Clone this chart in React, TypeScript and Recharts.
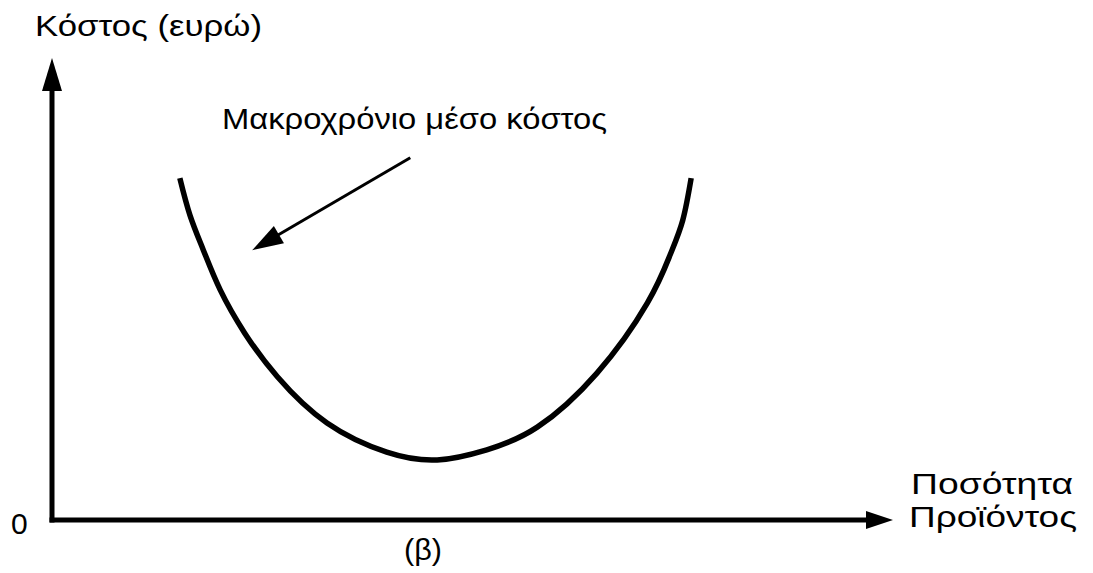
import { LineChart, Line, XAxis, YAxis, ReferenceLine } from 'recharts'

// Long-run average cost curve (U shape)
const quantity = [15.2, 16.4, 18.0, 20.0, 22.9, 26.8, 32.7, 39.8, 45.8, 51.7, 57.7, 64.8, 70.8, 73.5, 75.0, 76.0]
const avgCost = [74.0, 66.0, 58.4, 49.8, 40.5, 31.0, 21.0, 14.7, 13.0, 15.2, 20.1, 31.8, 47.0, 57.4, 64.9, 74.0]

// pointer from the caption to the curve: [tail, head]
const pointerFrom = { x: 42.6, y: 78.4 }
const pointerTo = { x: 23.8, y: 58.4 }

const axisMax = 100

const curveData = quantity.map((q, i) => ({ q, cost: avgCost[i] }))

const font = '"Liberation Sans", Arial, sans-serif'

// line with a filled triangular head at (x2, y2)
const arrow = (head: number, half: number, width: number, cap: 'butt' | 'square' = 'butt') =>
  (props: any) => {
    const { x1, y1, x2, y2 } = props
    const dx = x2 - x1
    const dy = y2 - y1
    const len = Math.sqrt(dx * dx + dy * dy) || 1
    const ux = dx / len
    const uy = dy / len
    const bx = x2 - ux * head
    const by = y2 - uy * head
    const pts = [
      `${x2},${y2}`,
      `${bx - uy * half},${by + ux * half}`,
      `${bx + uy * half},${by - ux * half}`
    ].join(' ')
    return (
      <g>
        <line x1={x1} y1={y1} x2={bx + ux * 2} y2={by + uy * 2} stroke="#000" strokeWidth={width} strokeLinecap={cap} />
        <polygon points={pts} fill="#000" />
      </g>
    )
  }

export default function App() {
  return (
    <div style={{ position: 'absolute', left: 0, top: 0, width: 1093, height: 573, background: '#fff' }}>
      <LineChart
        width={1093}
        height={573}
        data={curveData}
        margin={{ top: 58, right: 200, bottom: 53, left: 52 }}
      >
        <XAxis type="number" dataKey="q" domain={[0, axisMax]} hide />
        <YAxis type="number" domain={[0, axisMax]} hide />

        {/* axes */}
        <ReferenceLine
          segment={[{ x: 0, y: 0 }, { x: axisMax, y: 0 }]}
          ifOverflow="visible"
          shape={arrow(27, 9, 5, 'square')}
        />
        <ReferenceLine
          segment={[{ x: 0, y: 0 }, { x: 0, y: axisMax }]}
          ifOverflow="visible"
          shape={arrow(33, 10, 5, 'square')}
        />

        <Line
          type="natural"
          dataKey="cost"
          stroke="#000"
          strokeWidth={5.5}
          strokeLinecap="butt"
          dot={false}
          activeDot={false}
          isAnimationActive={false}
        />

        <ReferenceLine
          segment={[pointerFrom, pointerTo]}
          ifOverflow="visible"
          shape={arrow(31, 10, 3)}
        />

        <g fontFamily={font} fill="#000" fontSize={30}>
          <text x={35} y={36} textLength={227} lengthAdjust="spacingAndGlyphs">Κόστος (ευρώ)</text>
          <text x={222} y={129} textLength={385} lengthAdjust="spacingAndGlyphs">Μακροχρόνιο μέσο κόστος</text>
          <text x={11} y={534}>0</text>
          <text x={911} y={494} textLength={162} lengthAdjust="spacingAndGlyphs">Ποσότητα</text>
          <text x={909} y={527} textLength={168} lengthAdjust="spacingAndGlyphs">Προϊόντος</text>
          <text x={404} y={560} textLength={38} lengthAdjust="spacingAndGlyphs">(β)</text>
        </g>
      </LineChart>
    </div>
  )
}
